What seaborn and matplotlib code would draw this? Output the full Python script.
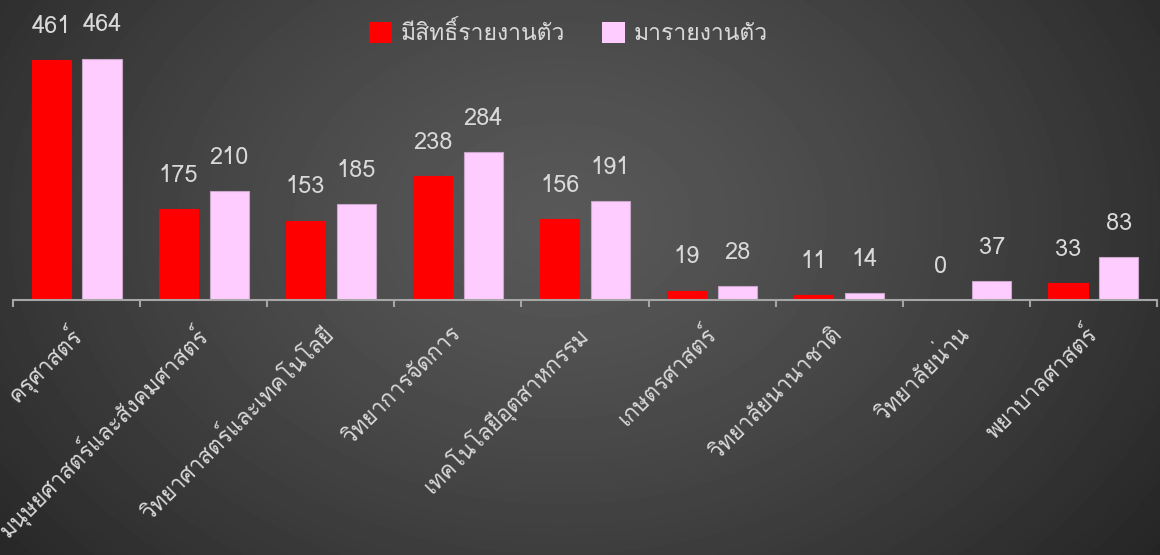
import numpy as np
import pandas as pd
import matplotlib
matplotlib.use("Agg")
import matplotlib.pyplot as plt
from matplotlib import font_manager
from matplotlib.patches import Patch
import seaborn as sns

# ---------------------------------------------------------------------------
# data
# ---------------------------------------------------------------------------
faculties = [
    "ครุศาสตร์",
    "มนุษยศาสตร์และสังคมศาสตร์",
    "วิทยาศาสตร์และเทคโนโลยี",
    "วิทยาการจัดการ",
    "เทคโนโลยีอุตสาหกรรม",
    "เกษตรศาสตร์",
    "วิทยาลัยนานาชาติ",
    "วิทยาลัยน่าน",
    "พยาบาลศาสตร์",
]
eligible = [461, 175, 153, 238, 156, 19, 11, 0, 33]
reported = [464, 210, 185, 284, 191, 28, 14, 37, 83]
series_names = ["มีสิทธิ์รายงานตัว", "มารายงานตัว"]
colors = ["#FF0000", "#FFCCFF"]

df = pd.DataFrame({
    "faculty": faculties * 2,
    "count": eligible + reported,
    "series": [series_names[0]] * len(faculties) + [series_names[1]] * len(faculties),
})


# ---------------------------------------------------------------------------
# font: look for an installed family that has Thai glyphs
# ---------------------------------------------------------------------------
def find_thai_font():
    try:
        from fontTools.ttLib import TTFont
    except ImportError:
        return None
    found = []
    for fe in font_manager.fontManager.ttflist:
        try:
            f = TTFont(fe.fname, fontNumber=0, lazy=True)
            cmap = f.getBestCmap() or {}
            if 0x0E01 in cmap and 0x0E34 in cmap:
                found.append(fe.name)
        except Exception:
            continue
    for pref in ["Tahoma", "Loma", "Garuda", "Noto Sans Thai Looped", "Noto Sans Thai",
                 "Noto Sans Thai UI", "Sarabun", "Kinnari"]:
        if pref in found:
            return pref
    return found[0] if found else None


sns.set_theme(style="dark")
thai = find_thai_font()
families = ([thai] if thai else []) + ["DejaVu Sans"]
plt.rcParams["font.family"] = families
print("thai font:", thai)

TEXT = "#d9d9d9"

fig = plt.figure(figsize=(11.6, 5.55), dpi=100)

# radial gradient background
bg = fig.add_axes([0, 0, 1, 1], zorder=0)
yy, xx = np.mgrid[0:555, 0:1160]
r = np.sqrt(((xx - 560) / 700) ** 2 + ((yy - 220) / 520) ** 2)
r = np.clip(r / r.max(), 0, 1)
lo, hi = 0x25, 0x58
grey = (hi - (hi - lo) * r ** 1.3) / 255
bg.imshow(grey, cmap="gray", vmin=0, vmax=1, aspect="auto", interpolation="bilinear")
bg.set_axis_off()

ax = fig.add_axes([13 / 1160, 0.4586, 1144 / 1160, 0.5054], zorder=1)
ax.set_facecolor("none")

sns.barplot(data=df, x="faculty", y="count", hue="series", order=faculties,
            hue_order=series_names, palette=colors, gap=0.23, width=0.8,
            saturation=1, ax=ax, legend=False)

for cont, ec in zip(ax.containers, ["#FF0000", "#c9a6c9"]):
    for bar in cont:
        bar.set_edgecolor(ec)
        bar.set_linewidth(0.8)
    ax.bar_label(cont, padding=16, color=TEXT, fontsize=17)

ax.set_xlim(-0.5, len(faculties) - 0.5)
ax.set_ylim(0, 538)
ax.set_xlabel("")
ax.set_ylabel("")
ax.set_yticks([])
ax.grid(False)
for side in ["left", "right", "top"]:
    ax.spines[side].set_visible(False)
ax.spines["bottom"].set_color("#a6a6a6")
ax.spines["bottom"].set_linewidth(1.5)

# ticks at category boundaries, labels at centres
ax.set_xticks(np.arange(-0.5, len(faculties), 1), minor=True)
ax.tick_params(axis="x", which="minor", bottom=True, length=5, width=1.5, color="#a6a6a6")
ax.tick_params(axis="x", which="major", bottom=False, length=0, pad=22)
ax.set_xticks(range(len(faculties)))
ax.set_xticklabels(faculties, rotation=45, ha="right", va="center",
                   rotation_mode="anchor", color=TEXT, fontsize=16)

handles = [Patch(facecolor=c, edgecolor="none") for c in colors]
fig.legend(handles, series_names, loc="center", bbox_to_anchor=(0.49, 0.94), ncol=2,
           frameon=False, fontsize=16.5, labelcolor=TEXT, handlelength=1.0,
           handleheight=1.0, handletextpad=0.4, columnspacing=1.6)

fig.savefig("out.png", dpi=100)
